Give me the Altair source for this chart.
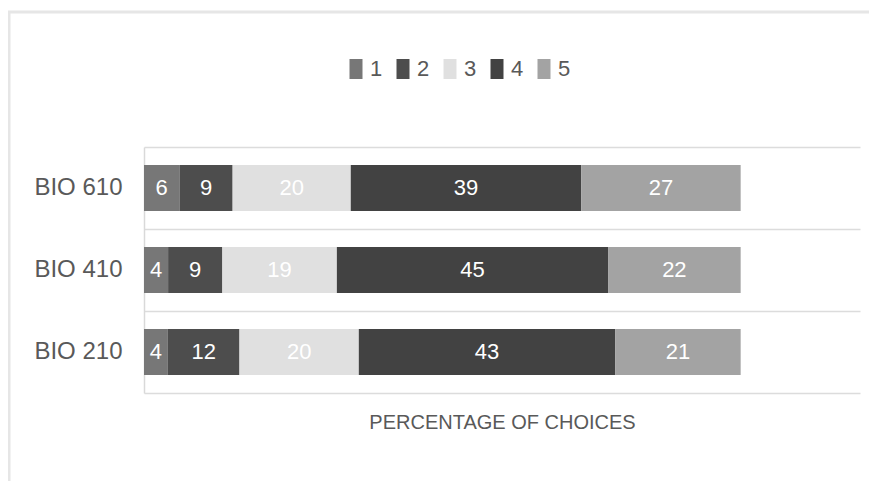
import altair as alt
import pandas as pd

courses = ["BIO 610", "BIO 410", "BIO 210"]
choices = ["1", "2", "3", "4", "5"]
values = {
    "BIO 610": [6, 9, 20, 39, 27],
    "BIO 410": [4, 9, 19, 45, 22],
    "BIO 210": [4, 12, 20, 43, 21],
}
colors = ["#777777", "#4d4d4d", "#e0e0e0", "#424242", "#a3a3a3"]

rows = []
for c in courses:
    for ch, v in zip(choices, values[c]):
        rows.append({"course": c, "choice": ch, "value": v})
df = pd.DataFrame(rows)

FONT = "Liberation Sans, Arial, sans-serif"

base = alt.Chart(df).transform_joinaggregate(
    total="sum(value)", groupby=["course"]
).transform_calculate(
    frac="datum.value / datum.total"
).transform_stack(
    stack="frac", groupby=["course"], sort=[alt.SortField("choice", order="ascending")],
    as_=["x0", "x1"]
).transform_calculate(
    mid="(datum.x0 + datum.x1) / 2"
)

yenc = alt.Y(
    "course:N", sort=courses,
    scale=alt.Scale(paddingInner=0.44, paddingOuter=0.22),
    axis=alt.Axis(
        title=None, ticks=False, domain=True, domainColor="#d9d9d9", domainWidth=1.5,
        labelFont=FONT, labelFontSize=24, labelColor="#595959",
        labelPadding=22, grid=True, gridColor="#dcdcdc", gridWidth=1.5,
        bandPosition=-0.39,
    ),
)

bars = base.mark_bar().encode(
    y=yenc,
    x=alt.X(
        "x0:Q", scale=alt.Scale(domain=[0, 1.2], nice=False),
        axis=alt.Axis(
            title="PERCENTAGE OF CHOICES", labels=False, ticks=False, grid=False,
            domainColor="#dcdcdc", domainWidth=1.5,
            titleFont=FONT, titleFontSize=20, titleFontWeight="normal",
            titleColor="#595959", titlePadding=19,
        ),
    ),
    x2="x1:Q",
    color=alt.Color(
        "choice:N", sort=choices,
        scale=alt.Scale(domain=choices, range=colors),
        legend=alt.Legend(
            title=None, orient="none", direction="horizontal", legendX=201, legendY=-89,
            symbolType="M-0.65,-1L0.65,-1L0.65,1L-0.65,1Z", symbolSize=400,
            symbolStrokeWidth=0, symbolOpacity=1,
            labelFont=FONT, labelFontSize=22, labelColor="#595959",
            labelOffset=3, columnPadding=9,
        ),
    ),
)

labels = base.mark_text(
    color="white", font=FONT, fontSize=22, align="center", baseline="middle"
).encode(
    y=alt.Y("course:N", sort=courses),
    x=alt.X("mid:Q"),
    text=alt.Text("value:Q"),
)

frame_top = alt.Chart(pd.DataFrame({"k": [0]})).mark_rule(
    color="#e6e6e6", strokeWidth=3
).encode(x=alt.value(-136), x2=alt.value(735), y=alt.value(-135))

frame_left = alt.Chart(pd.DataFrame({"k": [0]})).mark_rule(
    color="#e6e6e6", strokeWidth=3
).encode(x=alt.value(-135), y=alt.value(-136), y2=alt.value(345))

chart = alt.layer(bars, labels, frame_top, frame_left).properties(
    width=716, height=246,
    autosize=alt.AutoSizeParams(type="none"),
    padding={"left": 136, "top": 139, "right": 9, "bottom": 88},
    background="white",
).configure_view(stroke=None)

chart.save("out.html", embed_options={"renderer": "svg", "actions": False})
